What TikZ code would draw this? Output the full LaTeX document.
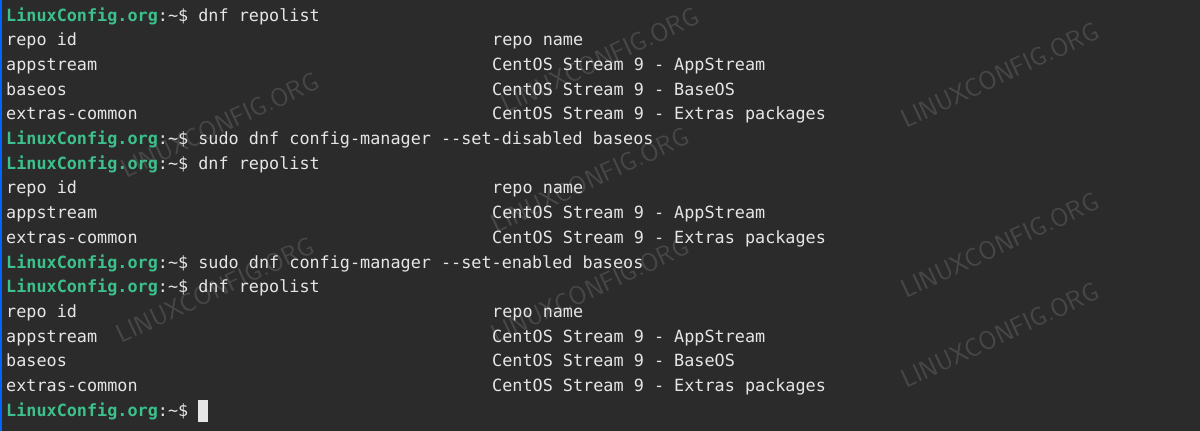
\documentclass[tikz,border=0pt]{standalone}
\usepackage{fontspec}
\setmonofont{DejaVu Sans Mono}
\definecolor{bg}{HTML}{2B2B2B}
\definecolor{fg}{HTML}{E6E6E6}
\definecolor{pg}{HTML}{3CC08C}
\definecolor{wm}{HTML}{5A5A5A}
\begin{document}
\begin{tikzpicture}[x=1pt,y=-1pt,
  txt/.style={anchor=base west,inner sep=0,text=fg,font=\ttfamily\fontsize{16.8}{20}\selectfont},
  wmark/.style={rotate=25,text=wm,opacity=0.6,font=\sffamily\fontsize{26}{30}\selectfont}]
\fill[bg] (0,0) rectangle (1200,431);
\fill[blue!60!cyan] (0,0) rectangle (2,431);
\foreach \c/\a in {{220,125}/a,{600,60}/b,{1000,75}/c,{590,180}/d,{1000,245}/e,{590,290}/f,{215,290}/g,{1000,335}/h}
  \node[wmark] (w\a) at (\c) {LINUXCONFIG.ORG};
\newcommand{\pr}[3]{\node[txt] (p#1) at (6,#2) {\textbf{\textcolor{pg}{LinuxConfig.org}}:\textasciitilde\$ #3};}
\newcommand{\rl}[4]{\node[txt] (l#1) at (6,#2) {#3};\node[txt] (r#1) at (492,#2) {#4};}
\pr{1}{21}{dnf repolist}
\rl{2}{45.7}{repo id}{repo name}
\rl{3}{70.4}{appstream}{CentOS Stream 9 - AppStream}
\rl{4}{95.1}{baseos}{CentOS Stream 9 - BaseOS}
\rl{5}{119.8}{extras-common}{CentOS Stream 9 - Extras packages}
\pr{6}{144.5}{sudo dnf config-manager -{}-set-disabled baseos}
\pr{7}{169.2}{dnf repolist}
\rl{8}{193.9}{repo id}{repo name}
\rl{9}{218.6}{appstream}{CentOS Stream 9 - AppStream}
\rl{10}{243.3}{extras-common}{CentOS Stream 9 - Extras packages}
\pr{11}{268}{sudo dnf config-manager -{}-set-enabled baseos}
\pr{12}{292.7}{dnf repolist}
\rl{13}{317.4}{repo id}{repo name}
\rl{14}{342.1}{appstream}{CentOS Stream 9 - AppStream}
\rl{15}{366.8}{baseos}{CentOS Stream 9 - BaseOS}
\rl{16}{391.5}{extras-common}{CentOS Stream 9 - Extras packages}
\pr{17}{416.2}{}
\fill[fg] (198,400) rectangle (208,422);
\end{tikzpicture}
\end{document}
